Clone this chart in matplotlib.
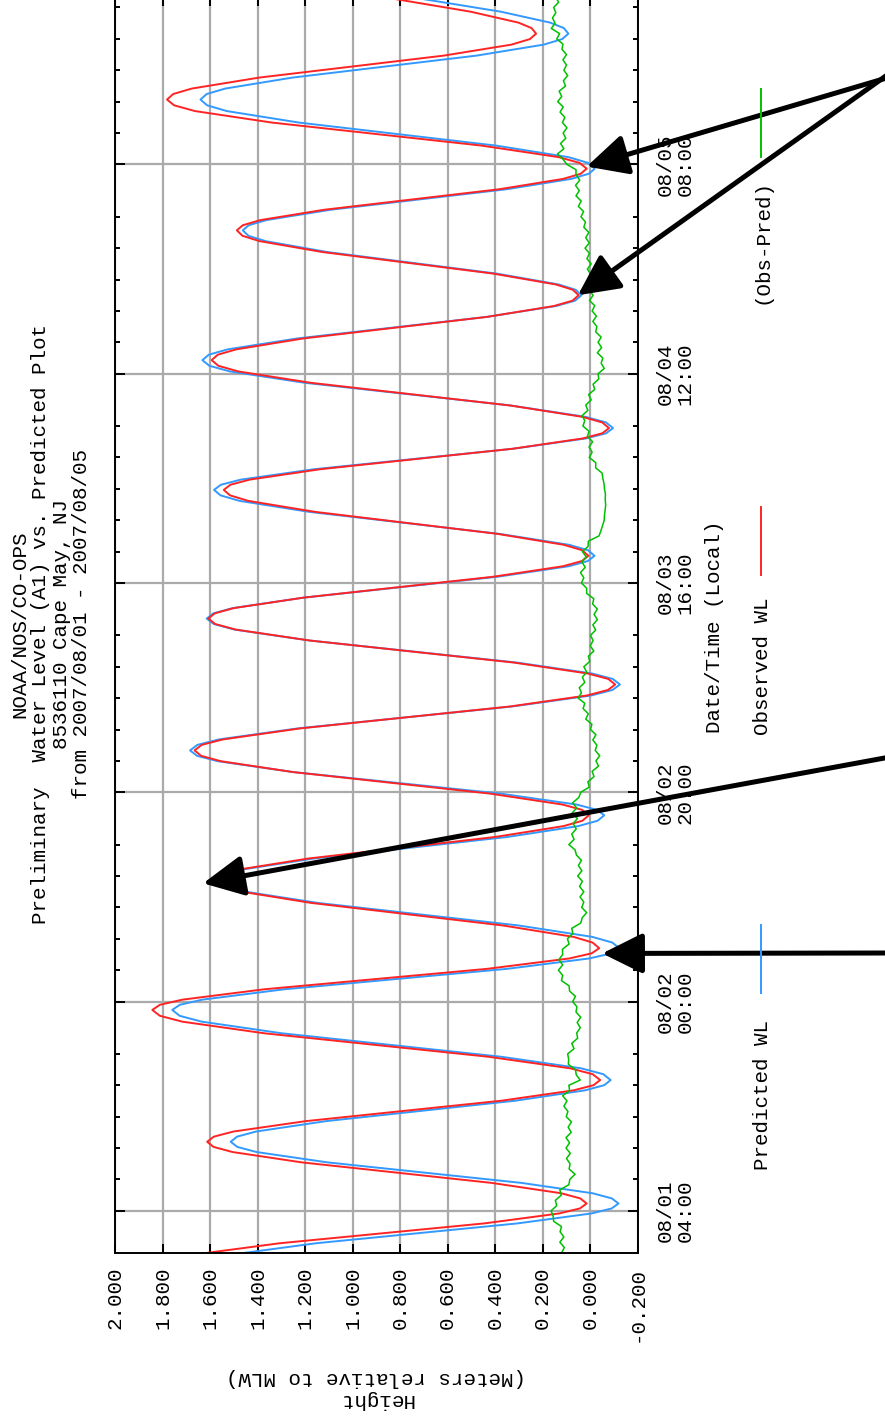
import numpy as np
import matplotlib
matplotlib.use("Agg")
import matplotlib.pyplot as plt
from matplotlib.lines import Line2D

plt.rcParams['font.family'] = ['Liberation Mono', 'DejaVu Sans Mono']

W, H = 885, 1416
RED = '#ff2424'
BLUE = '#3399ff'
GREEN = '#00c000'

# hours since 2007/08/01 00:00 (local)
wl_hours = [
    -1.0, -0.525, -0.05, 0.90, 1.85, 2.80, 3.75, 4.225,
    4.7, 5.19, 5.68, 6.67, 7.65, 8.63, 9.62, 10.11,
    10.6, 11.09, 11.58, 12.57, 13.55, 14.53, 15.52, 16.01,
    16.5, 17.06, 17.62, 18.73, 19.85, 20.97, 22.08, 22.64,
    23.2, 23.69, 24.18, 25.17, 26.15, 27.13, 28.12, 28.61,
    29.1, 29.64, 30.18, 31.27, 32.35, 33.43, 34.52, 35.06,
    35.6, 36.12, 36.63, 37.67, 38.7, 39.73, 40.77, 41.28,
    41.8, 42.32, 42.83, 43.87, 44.9, 45.93, 46.97, 47.48,
    48.0, 48.53, 49.05, 50.1, 51.15, 52.2, 53.25, 53.78,
    54.3, 54.83, 55.35, 56.4, 57.45, 58.5, 59.55, 60.08,
    60.6, 61.1, 61.6, 62.6, 63.6, 64.6, 65.6, 66.1,
    66.6, 67.13, 67.65, 68.7, 69.75, 70.8, 71.85, 72.38,
    72.9, 73.39, 73.88, 74.87, 75.85, 76.83, 77.82, 78.31,
    78.8, 79.34, 79.88, 80.97, 82.05, 83.13, 84.22, 84.76,
    85.3, 85.82, 86.33, 87.37, 88.4, 89.43, 90.47, 90.98,
    91.5, 92.02, 92.53, 93.57, 94.6, 95.63, 96.67, 97.18,
    97.7, 98.19, 98.68, 99.67, 100.65, 101.63, 102.62, 103.11,
    103.6, 104.15, 104.7, 105.8, 106.9, 108.0, 109.1, 109.65,
    110.2, 110.73, 111.25, 112.3, 113.35, 114.4, 115.45, 115.98,
    116.5, 117.03, 117.55, 118.6, 119.65, 120.7,
]

observed_wl = [
    1.74, 1.711, 1.624, 1.308, 0.877, 0.445, 0.130, 0.043,
    0.014, 0.041, 0.121, 0.414, 0.813, 1.213, 1.505, 1.585,
    1.612, 1.584, 1.501, 1.198, 0.785, 0.371, 0.068, -0.015,
    -0.043, -0.011, 0.083, 0.429, 0.900, 1.372, 1.717, 1.811,
    1.843, 1.811, 1.717, 1.373, 0.902, 0.432, 0.087, -0.007,
    -0.039, -0.011, 0.069, 0.366, 0.771, 1.175, 1.472, 1.552,
    1.58, 1.553, 1.474, 1.186, 0.793, 0.399, 0.111, 0.032,
    0.005, 0.033, 0.116, 0.420, 0.835, 1.250, 1.554, 1.637,
    1.665, 1.635, 1.546, 1.222, 0.780, 0.337, 0.013, -0.076,
    -0.106, -0.077, 0.009, 0.322, 0.751, 1.179, 1.492, 1.578,
    1.607, 1.580, 1.500, 1.207, 0.807, 0.407, 0.114, 0.034,
    0.007, 0.033, 0.110, 0.391, 0.775, 1.158, 1.439, 1.516,
    1.542, 1.514, 1.433, 1.137, 0.731, 0.326, 0.029, -0.052,
    -0.080, -0.052, 0.032, 0.338, 0.757, 1.175, 1.481, 1.565,
    1.593, 1.567, 1.489, 1.207, 0.821, 0.434, 0.152, 0.074,
    0.048, 0.072, 0.144, 0.408, 0.768, 1.127, 1.391, 1.463,
    1.487, 1.462, 1.388, 1.119, 0.751, 0.382, 0.113, 0.039,
    0.014, 0.044, 0.132, 0.456, 0.898, 1.339, 1.663, 1.751,
    1.781, 1.755, 1.677, 1.393, 1.004, 0.616, 0.331, 0.253,
    0.227, 0.246, 0.301, 0.503, 0.779, 1.054,
]

predicted_wl = [
    1.58, 1.551, 1.466, 1.155, 0.730, 0.305, -0.006, -0.091,
    -0.12, -0.092, -0.011, 0.288, 0.697, 1.105, 1.404, 1.485,
    1.513, 1.486, 1.406, 1.113, 0.713, 0.313, 0.020, -0.060,
    -0.087, -0.056, 0.037, 0.375, 0.836, 1.298, 1.635, 1.728,
    1.759, 1.727, 1.633, 1.289, 0.818, 0.348, 0.003, -0.091,
    -0.123, -0.094, -0.010, 0.300, 0.724, 1.147, 1.457, 1.541,
    1.57, 1.542, 1.461, 1.163, 0.755, 0.348, 0.049, -0.032,
    -0.06, -0.030, 0.057, 0.376, 0.812, 1.248, 1.567, 1.654,
    1.684, 1.653, 1.563, 1.232, 0.779, 0.327, -0.005, -0.095,
    -0.126, -0.096, -0.009, 0.309, 0.744, 1.179, 1.497, 1.584,
    1.614, 1.586, 1.505, 1.206, 0.798, 0.389, 0.090, 0.009,
    -0.019, 0.008, 0.088, 0.382, 0.782, 1.183, 1.476, 1.556,
    1.583, 1.554, 1.470, 1.163, 0.743, 0.323, 0.016, -0.068,
    -0.097, -0.068, 0.019, 0.335, 0.768, 1.200, 1.516, 1.603,
    1.632, 1.605, 1.525, 1.233, 0.834, 0.435, 0.143, 0.063,
    0.036, 0.060, 0.132, 0.393, 0.749, 1.106, 1.366, 1.438,
    1.462, 1.437, 1.363, 1.092, 0.721, 0.351, 0.079, 0.005,
    -0.02, 0.008, 0.091, 0.395, 0.810, 1.225, 1.529, 1.612,
    1.64, 1.614, 1.536, 1.253, 0.866, 0.478, 0.195, 0.117,
    0.091, 0.110, 0.167, 0.376, 0.661, 0.945,
]

# residual sampled every half hour
resid_hours = np.arange(0, 120.5, 0.5)
obs_minus_pred = [
    0.119, 0.108, 0.127, 0.110, 0.126, 0.120, 0.153, 0.155, 0.164, 0.140,
    0.146, 0.121, 0.127, 0.089, 0.085, 0.063, 0.088, 0.084, 0.099, 0.083,
    0.101, 0.086, 0.101, 0.079, 0.092, 0.078, 0.100, 0.093, 0.110, 0.097,
    0.115, 0.086, 0.089, 0.041, 0.058, 0.061, 0.091, 0.090, 0.094, 0.067,
    0.077, 0.052, 0.056, 0.041, 0.054, 0.039, 0.059, 0.055, 0.073, 0.061,
    0.086, 0.088, 0.120, 0.115, 0.133, 0.115, 0.131, 0.115, 0.116, 0.088,
    0.095, 0.072, 0.077, 0.039, 0.033, 0.014, 0.035, 0.026, 0.042, 0.026,
    0.044, 0.032, 0.052, 0.034, 0.049, 0.036, 0.057, 0.063, 0.089, 0.067,
    0.077, 0.058, 0.071, 0.053, 0.076, 0.056, 0.073, 0.047, 0.039, 0.003,
    0.009, -0.017, -0.009, -0.036, -0.025, -0.041, -0.022, -0.029, -0.012, -0.025,
    -0.002, -0.008, 0.018, 0.007, 0.029, 0.022, 0.050, 0.036, 0.045, 0.022,
    0.032, 0.014, 0.026, 0.001, 0.007, -0.016, -0.001, -0.013, -0.002, -0.024,
    -0.012, -0.031, -0.017, -0.031, -0.011, -0.016, 0.014, 0.014, 0.036, 0.026,
    0.040, 0.020, 0.034, 0.016, 0.032, 0.008, 0.007, -0.038, -0.046, -0.053,
    -0.060, -0.061, -0.064, -0.066, -0.064, -0.065, -0.061, -0.059, -0.054, -0.051,
    -0.024, -0.024, 0.003, -0.009, 0.004, -0.011, 0.011, 0.004, 0.030, 0.022,
    0.033, 0.009, 0.018, -0.005, 0.006, -0.020, -0.013, -0.037, -0.034, -0.060,
    -0.047, -0.054, -0.031, -0.049, -0.034, -0.047, -0.024, -0.029, -0.012, -0.027,
    -0.009, -0.020, 0.002, -0.013, 0.004, -0.012, 0.007, -0.003, 0.011, -0.005,
    0.013, 0.002, 0.021, 0.003, 0.018, 0.005, 0.026, 0.019, 0.038, 0.027,
    0.049, 0.037, 0.059, 0.045, 0.061, 0.043, 0.059, 0.059, 0.097, 0.114,
    0.137, 0.110, 0.124, 0.102, 0.113, 0.097, 0.116, 0.106, 0.126, 0.113,
    0.136, 0.119, 0.130, 0.103, 0.112, 0.094, 0.110, 0.099, 0.114, 0.099,
    0.118, 0.114, 0.140, 0.128, 0.163, 0.147, 0.158, 0.144, 0.153, 0.132,
    0.145,
]

tick_hours = [4, 24, 44, 64, 84, 104]
tick_labels = ['08/01\n04:00', '08/02\n00:00', '08/02\n20:00',
               '08/03\n16:00', '08/04\n12:00', '08/05\n08:00']
height_ticks = [-0.2, 0.0, 0.2, 0.4, 0.6, 0.8, 1.0, 1.2, 1.4, 1.6, 1.8, 2.0]

title = ("NOAA/NOS/CO-OPS\n"
         "Preliminary  Water Level (A1) vs. Predicted Plot\n"
         "8536110 Cape May, NJ\n"
         "from 2007/08/01 - 2007/08/05")

fig = plt.figure(figsize=(W / 100, H / 100), dpi=100)
px_per_hour = 10.464
ax = fig.add_axes([115 / W, (H - 1252.7) / H, 522.5 / W, 120 * px_per_hour / H])

ax.plot(predicted_wl, wl_hours, color=BLUE, lw=1.4)
ax.plot(observed_wl, wl_hours, color=RED, lw=1.4)
ax.plot(obs_minus_pred, resid_hours, color=GREEN, lw=1.1)

ax.set_xlim(2.0, -0.2)
ax.set_ylim(0, 120)

ax.set_xticks(height_ticks)
ax.set_xticklabels(['%.3f' % v for v in height_ticks], rotation=90, fontsize=15)
ax.set_yticks(tick_hours)
ax.set_yticklabels(tick_labels, rotation=90, va='center', fontsize=15, linespacing=1.05)
ax.set_yticks([m + 3 * k for m in tick_hours for k in range(1, 6)], minor=True)

ax.grid(True, which='major', color='#aaaaaa', lw=1.6)
ax.set_axisbelow(True)
ax.tick_params(axis='x', which='major', direction='in', length=6.5, width=1.4,
               top=True, pad=10)
ax.tick_params(axis='y', which='major', direction='in', length=7, width=1.4,
               left=True, right=True, labelleft=False, labelright=True, pad=13)
ax.tick_params(axis='y', which='minor', direction='in', length=3.5, width=1.4,
               left=True, right=True)
for s in ax.spines.values():
    s.set_linewidth(1.4)

fig.text(51 / W, 1 - 624 / H, title, rotation=90, ha='center', va='center',
         multialignment='center', fontsize=15, linespacing=1.1)
fig.text(715 / W, 1 - 627 / H, 'Date/Time (Local)', rotation=90,
         ha='center', va='center', fontsize=15)
fig.text(376 / W, 1 - 1388 / H, 'Height\n(Meters relative to MLW)', rotation=180,
         ha='center', va='center', multialignment='center', fontsize=15,
         linespacing=1.2)

# legend, laid out down the right side like the original
legend = [('Predicted WL', BLUE, 1095, (925, 993)),
          ('Observed WL', RED, 666, (507, 575)),
          ('(Obs-Pred)', GREEN, 241, (89, 157))]
for name, col, ty, (y0, y1) in legend:
    fig.text(762 / W, 1 - ty / H, name, rotation=90, ha='center', va='center',
             fontsize=15)
    fig.add_artist(Line2D([761 / W, 761 / W], [1 - y0 / H, 1 - y1 / H],
                          color=col, lw=1.4))

# black call-out arrows: tip in data (height, hour), tail in figure pixels from top
arrows = [((0.014, 103.8), (890, 77)),
          ((0.051, 91.5), (890, 73)),
          ((1.629, 35.3), (890, 757)),
          ((-0.051, 28.6), (890, 953))]
for tip, tail in arrows:
    an = ax.annotate('', xy=tip, xycoords='data',
                     xytext=(tail[0], H - tail[1]), textcoords='figure pixels',
                     arrowprops=dict(arrowstyle='-|>,head_length=1.25,head_width=0.62',
                                     color='black', lw=3.6, mutation_scale=20,
                                     shrinkA=0, shrinkB=0),
                     annotation_clip=False)
    an.arrow_patch.set_clip_on(False)

fig.savefig('out.png', dpi=100)
